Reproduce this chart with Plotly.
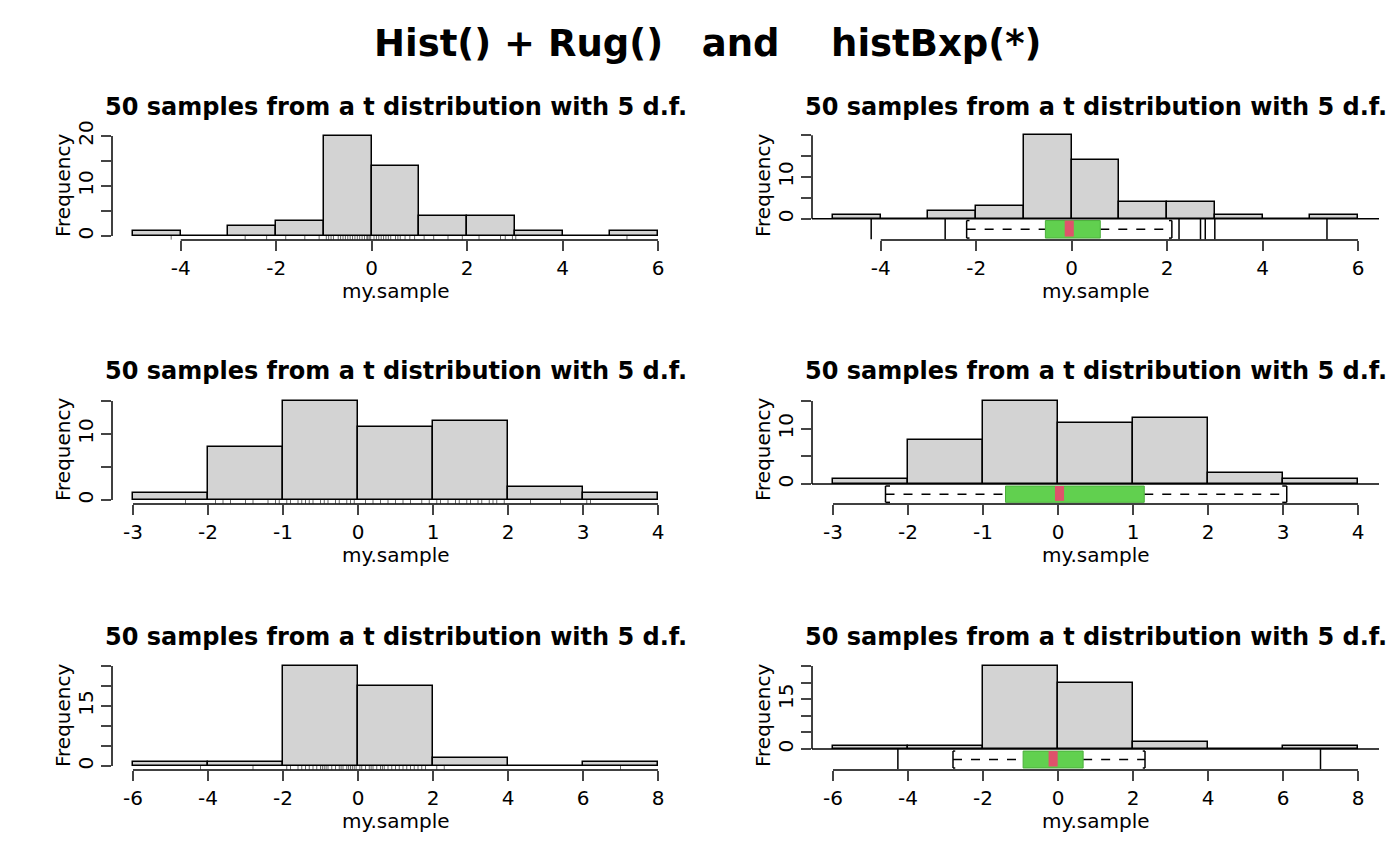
import plotly.graph_objects as go

# histogram breaks and counts per row
breaks = [list(range(-5, 7)), list(range(-3, 5)), list(range(-6, 9, 2))]
counts = [[1, 0, 2, 3, 20, 14, 4, 4, 1, 0, 1],
          [1, 8, 15, 11, 12, 2, 1],
          [1, 1, 25, 20, 2, 0, 1]]

# rug samples
rug = [
    [-4.2, -2.65, -2.2, -1.8, -1.4, -1.1, -0.95, -0.9, -0.85, -0.8, -0.7, -0.65, -0.6, -0.55,
     -0.5, -0.45, -0.4, -0.35, -0.3, -0.25, -0.2, -0.15, -0.1, -0.08, -0.05, -0.02, 0.05, 0.1,
     0.15, 0.2, 0.25, 0.3, 0.35, 0.4, 0.5, 0.55, 0.6, 0.7, 0.8, 0.9, 1.1, 1.3, 1.6, 1.9, 2.25,
     2.7, 2.8, 2.95, 3.02, 5.35],
    [-2.3, -1.9, -1.8, -1.7, -1.5, -1.4, -1.2, -1.1, -1.05, -0.95, -0.9, -0.8, -0.75, -0.7,
     -0.65, -0.6, -0.5, -0.45, -0.4, -0.3, -0.25, -0.15, -0.1, -0.05, 0.1, 0.2, 0.3, 0.4, 0.5,
     0.6, 0.7, 0.85, 0.95, 1.05, 1.1, 1.2, 1.3, 1.35, 1.45, 1.5, 1.6, 1.65, 1.75, 1.8, 1.85,
     1.95, 2.3, 2.7, 3.05, 3.1],
    [-4.2, -2.8, -1.9, -1.8, -1.6, -1.5, -1.4, -1.3, -1.2, -1.1, -1.0, -0.95, -0.9, -0.85,
     -0.8, -0.7, -0.6, -0.5, -0.45, -0.4, -0.3, -0.25, -0.2, -0.15, -0.1, -0.05, 0.05, 0.1,
     0.2, 0.3, 0.35, 0.4, 0.5, 0.6, 0.65, 0.7, 0.8, 0.9, 1.0, 1.1, 1.2, 1.3, 1.4, 1.5, 1.6,
     1.7, 1.8, 2.1, 2.3, 7.0],
]

# boxplot stats: lower whisker, Q1, median, Q3, upper whisker
box_stats = [[-2.2, -0.55, -0.05, 0.6, 2.1],
             [-2.3, -0.7, 0.02, 1.15, 3.05],
             [-2.8, -0.93, -0.13, 0.67, 2.32]]
outliers = [[-4.2, -2.65, 2.25, 2.7, 2.8, 3.0, 5.35], [], [-4.27, 7.0]]

x_ticks = [list(range(-4, 7, 2)), list(range(-3, 5)), list(range(-6, 9, 2))]
y_ticks = [[0, 5, 10, 15, 20], [0, 5, 10, 15], [0, 5, 10, 15, 20, 25]]
y_labels = [["0", "", "10", "", "20"], ["0", "", "10", ""], ["0", "", "", "15", "", ""]]
y_labels_r = [["0", "", "10", "", ""], ["0", "", "10", ""], ["0", "", "", "15", "", ""]]

x_ranges = [[-5.44, 6.44], [-3.28, 4.28], [-6.56, 8.56]]
yl_ranges = [[-0.8, 20.8], [-0.6, 15.75], [-1.0, 26.0]]
yr_ranges = [[-5.06, 20.8], [-3.6, 15.9], [-6.3, 26.2]]
box_depth = [(-0.4, -4.6), (-0.35, -3.3), (-0.6, -5.7)]

W, H = 1400, 866
rows_px = [(124, 232), (388, 496), (654, 762)]
cols_px = [(104, 671), (804, 1371)]
FONT = "DejaVu Sans"
RED = "#DF536B"
GREEN = "#61D04F"
TF = 20

fig = go.Figure()
layout = {}
shapes = []
annotations = []

n = 0
for r in range(3):
    top, bot = rows_px[r]
    for c in range(2):
        n += 1
        xa = "x" if n == 1 else "x%d" % n
        ya = "y" if n == 1 else "y%d" % n
        b = breaks[r]
        mids = [(b[i] + b[i + 1]) / 2 for i in range(len(b) - 1)]
        widths = [b[i + 1] - b[i] for i in range(len(b) - 1)]
        fig.add_trace(go.Bar(x=mids, y=counts[r], width=widths, xaxis=xa, yaxis=ya,
                             marker=dict(color="#D3D3D3", line=dict(color="black", width=1.5)),
                             showlegend=False, hoverinfo="skip"))
        yr = yl_ranges[r] if c == 0 else yr_ranges[r]
        labs = y_labels[r] if c == 0 else y_labels_r[r]
        layout["xaxis" if n == 1 else "xaxis%d" % n] = dict(
            domain=[cols_px[c][0] / W, cols_px[c][1] / W], range=x_ranges[r], anchor=ya,
            showgrid=False, zeroline=False, showline=False, ticks="outside", ticklen=10,
            tickwidth=1.5, tickvals=x_ticks[r], ticktext=[str(v) for v in x_ticks[r]],
            tickfont=dict(size=TF, color="black"), automargin=False)
        layout["yaxis" if n == 1 else "yaxis%d" % n] = dict(
            domain=[1 - bot / H, 1 - top / H], range=yr, anchor=xa,
            showgrid=False, zeroline=False, showline=False, ticks="outside", ticklen=10,
            tickwidth=1.5, tickvals=y_ticks[r], ticktext=labs, tickangle=-90,
            tickfont=dict(size=TF, color="black"), automargin=False)
        # R style axis lines
        shapes.append(dict(type="line", xref=xa, yref=ya + " domain", x0=x_ticks[r][0],
                           x1=x_ticks[r][-1], y0=0, y1=0, line=dict(color="black", width=1.5)))
        shapes.append(dict(type="line", xref=xa + " domain", yref=ya, x0=0, x1=0,
                           y0=y_ticks[r][0], y1=y_ticks[r][-1], line=dict(color="black", width=1.5)))
        cx = (cols_px[c][0] + cols_px[c][1]) / 2 / W
        annotations.append(dict(text="<b>50 samples from a t distribution with 5 d.f.</b>",
                                xref="paper", yref="paper", x=cx, y=1 - (top - 25) / H,
                                xanchor="center", yanchor="middle", showarrow=False,
                                font=dict(size=24, family=FONT, color="black")))
        annotations.append(dict(text="my.sample", xref="paper", yref="paper", x=cx,
                                y=1 - (bot + 51) / H, xanchor="center", yanchor="middle",
                                showarrow=False, font=dict(size=TF, family=FONT, color="black")))
        annotations.append(dict(text="Frequency", xref="paper", yref="paper",
                                x=(cols_px[c][0] - 49) / W, y=1 - (top + bot) / 2 / H,
                                xanchor="center", yanchor="middle",
                                textangle=-90, showarrow=False,
                                font=dict(size=TF, family=FONT, color="black")))
        if c == 0:
            xs, ys = [], []
            for v in rug[r]:
                xs += [v, v, None]
                ys += [yr[0] * 0.9, 0, None]
            fig.add_trace(go.Scatter(x=xs, y=ys, mode="lines", xaxis=xa, yaxis=ya,
                                     line=dict(color="black", width=0.6),
                                     showlegend=False, hoverinfo="skip"))
        else:
            lw, q1, med, q3, uw = box_stats[r]
            d0, d1 = box_depth[r]
            mid = (d0 + d1) / 2
            line = dict(color="black", width=1.5)
            shapes.append(dict(type="line", xref=xa + " domain", yref=ya, x0=0, x1=1,
                               y0=0, y1=0, line=line))
            for x0, x1 in [(lw, q1), (q3, uw)]:
                shapes.append(dict(type="line", xref=xa, yref=ya, x0=x0, x1=x1, y0=mid, y1=mid,
                                   line=dict(color="black", width=1.5, dash="dash")))
            for w, s in [(lw, 1), (uw, -1)]:
                shapes.append(dict(type="line", xref=xa, yref=ya, x0=w, x1=w, y0=d0, y1=d1, line=line))
                for yy in (d0, d1):
                    shapes.append(dict(type="line", xref=xa, yref=ya, x0=w, x1=w + s * 0.06,
                                       y0=yy, y1=yy, line=line))
            for o in outliers[r]:
                shapes.append(dict(type="line", xref=xa, yref=ya, x0=o, x1=o, y0=0,
                                   y1=d1 - 0.3, line=line))
            shapes.append(dict(type="rect", xref=xa, yref=ya, x0=q1, x1=q3, y0=d0, y1=d1,
                               fillcolor=GREEN, line=dict(color="#4CAF3C", width=1)))
            hw = (x_ranges[r][1] - x_ranges[r][0]) * 0.008
            shapes.append(dict(type="rect", xref=xa, yref=ya, x0=med - hw, x1=med + hw,
                               y0=d0, y1=d1 * 0.92, fillcolor=RED, line=dict(width=0)))

annotations.append(dict(text="<b>Hist() + Rug()   and    histBxp(*)</b>", xref="paper",
                        yref="paper", x=0.5, y=1 - 36 / H, xanchor="center", yanchor="middle",
                        showarrow=False, font=dict(size=37, family=FONT, color="black")))

fig.update_layout(width=W, height=H, margin=dict(l=0, r=0, t=0, b=0, autoexpand=False),
                  plot_bgcolor="white", paper_bgcolor="white", bargap=0,
                  font=dict(family=FONT, color="black"),
                  shapes=shapes, annotations=annotations, **layout)
fig.write_html("out.html")
